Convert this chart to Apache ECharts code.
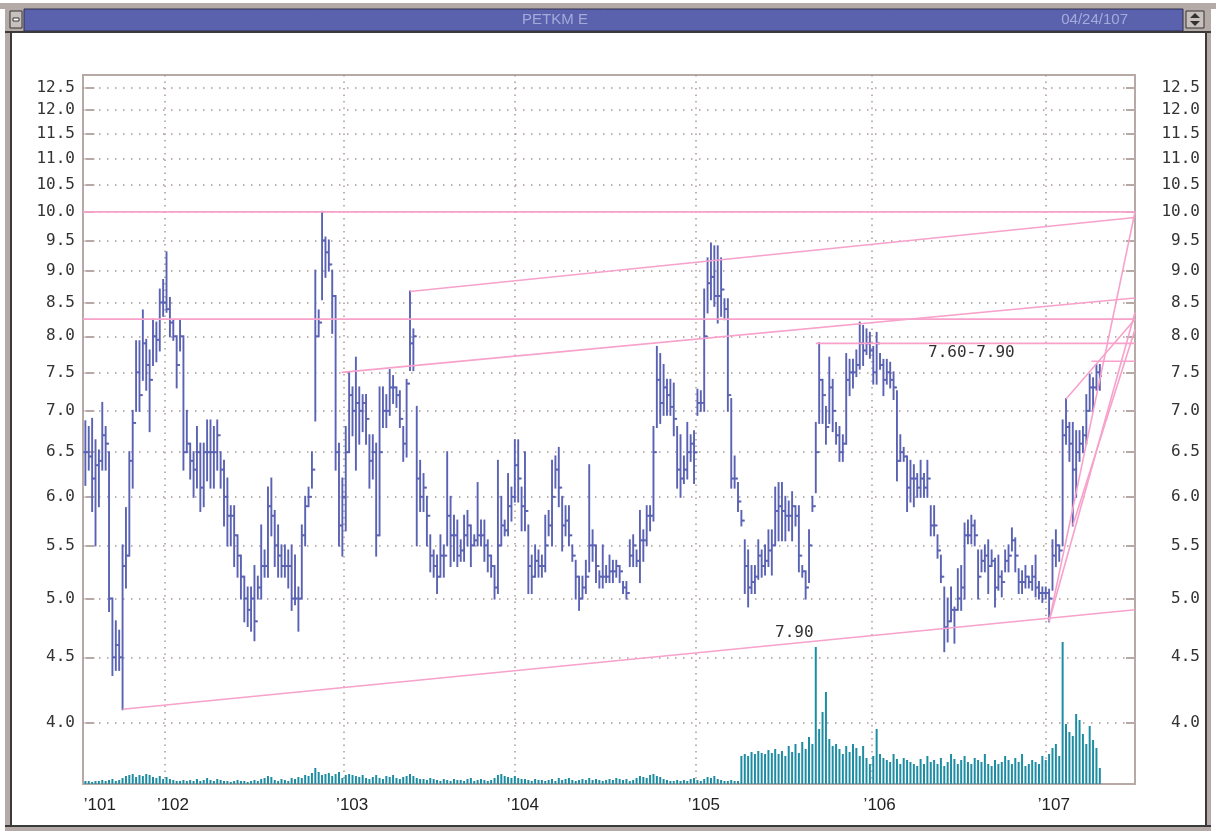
<!DOCTYPE html>
<html>
<head>
<meta charset="utf-8">
<script src="https://cdn.jsdelivr.net/npm/echarts@6/dist/echarts.min.js"></script>
<style>
html,body{margin:0;padding:0;background:#fff;}
#main{width:1216px;height:831px;}
</style>
</head>
<body>
<div id="main"></div>
<script>
// weekly bars, index 0 = first week shown (mid 101)
var highs = [6.87,6.8,6.9,6.64,6.52,7.1,6.8,6.5,5.0,4.8,4.72,5.5,5.88,6.5,7.0,7.93,7.93,8.38,7.95,7.8,
 8.24,8.2,8.7,8.85,9.3,8.57,8.24,8.0,8.24,8.0,7.0,6.6,6.5,6.8,6.6,6.6,6.88,6.88,6.8,6.88,
 6.5,6.4,6.2,5.9,5.9,5.6,5.4,5.2,5.1,5.1,5.3,5.2,5.7,5.45,6.1,6.2,5.85,5.7,5.5,5.5,
 5.45,5.5,5.4,5.1,5.7,6.0,6.1,6.5,9.0,8.38,10.0,9.55,9.5,9.0,8.6,6.6,6.2,6.8,7.5,7.3,
 7.7,7.3,7.2,7.2,6.7,6.7,6.6,7.3,7.3,7.2,7.53,7.45,7.3,7.25,6.8,7.4,8.67,8.1,7.05,6.4,
 6.25,6.0,5.6,5.45,5.4,5.6,5.5,6.5,6.0,5.8,5.75,5.55,5.8,5.85,5.7,5.6,6.15,5.75,5.75,5.55,
 5.4,5.3,6.4,6.0,5.75,6.25,6.1,6.64,6.64,6.1,6.5,5.7,5.4,5.5,5.45,5.4,5.8,5.85,6.4,6.45,
 6.55,6.0,5.9,5.9,5.5,5.35,5.2,5.2,5.35,6.35,5.65,5.5,5.25,5.5,5.3,5.4,5.35,5.35,5.3,5.15,
 5.15,5.55,5.6,5.45,5.85,5.65,5.9,5.9,6.8,7.85,7.75,7.6,7.4,7.4,7.35,6.8,6.7,6.45,6.85,6.7,
 6.75,7.27,7.25,8.7,9.2,9.45,9.4,9.4,9.2,8.55,8.55,7.15,6.45,6.15,5.85,5.55,5.45,5.3,5.3,5.55,
 5.45,5.5,5.65,5.65,6.1,6.15,6.15,6.0,5.95,6.05,5.9,5.9,5.3,5.25,5.65,6.0,6.85,7.9,7.4,7.05,
 7.7,7.4,6.85,6.8,6.7,7.75,7.67,7.67,7.8,8.2,8.15,8.1,8.05,7.85,8.05,7.75,7.67,7.67,7.63,7.5,
 7.25,6.7,6.55,6.45,6.4,6.35,6.25,6.4,6.25,6.4,5.9,5.9,5.6,5.4,5.1,5.0,5.1,4.92,5.27,5.3,
 5.72,5.75,5.8,5.75,5.45,5.45,5.5,5.55,5.45,5.37,5.4,5.25,5.45,5.5,5.67,5.57,5.27,5.25,5.3,5.2,
 5.3,5.4,5.15,5.1,5.1,5.08,5.55,5.65,5.5,6.88,7.15,6.85,6.85,6.75,6.75,6.8,7.2,7.47,7.42,7.6,
 7.6];
var lows = [6.13,6.3,5.85,5.5,5.9,6.3,6.3,4.89,4.36,4.4,4.4,4.1,5.1,5.4,6.1,7.0,7.0,7.4,7.27,6.75,
 7.6,7.65,7.8,8.3,8.36,8.0,7.95,7.3,7.8,6.3,6.5,6.2,6.0,6.1,5.85,5.9,6.18,6.1,6.1,6.3,
 6.1,5.7,5.5,5.5,5.3,5.2,5.0,4.8,4.76,4.72,4.64,5.0,5.0,5.2,5.2,5.6,5.3,5.2,5.2,5.2,
 5.1,4.9,4.95,4.72,5.0,5.5,5.9,6.1,6.88,8.0,8.55,8.9,9.0,8.05,6.3,5.5,5.4,5.65,6.5,6.7,
 6.3,6.6,6.75,6.6,6.1,6.2,5.4,5.6,6.8,6.8,6.95,7.1,7.05,6.8,6.4,6.45,7.53,7.53,5.5,5.85,
 5.85,5.5,5.25,5.2,5.05,5.2,5.2,5.5,5.3,5.35,5.3,5.35,5.35,5.5,5.3,5.5,5.5,5.5,5.35,5.25,
 5.2,5.0,5.05,5.5,5.6,5.6,5.75,5.95,5.95,5.65,5.65,5.05,5.05,5.2,5.2,5.2,5.25,5.6,5.5,6.1,
 5.9,5.45,5.6,5.5,5.35,5.0,4.9,5.0,5.05,5.25,5.35,5.15,5.1,5.1,5.15,5.15,5.15,5.2,5.15,5.05,
 5.0,5.3,5.3,5.3,5.15,5.35,5.5,5.65,5.75,6.8,6.85,6.95,6.95,6.95,6.7,6.1,6.0,6.15,6.2,6.4,
 6.15,6.95,7.0,7.0,8.35,8.55,8.45,8.2,8.3,8.25,7.0,6.1,6.1,5.85,5.7,5.05,4.93,5.05,5.05,5.18,
 5.2,5.22,5.3,5.22,5.5,5.55,5.55,5.55,5.65,5.55,5.7,5.25,5.2,5.0,5.15,5.85,6.05,6.85,6.85,6.6,
 6.85,6.75,6.6,6.4,6.4,6.6,7.2,7.3,7.45,7.55,7.6,7.75,7.7,7.35,7.35,7.55,7.2,7.35,7.3,7.15,
 6.18,6.4,6.4,5.85,5.95,5.9,6.0,6.0,6.0,6.0,5.6,5.6,5.38,5.15,4.55,4.63,4.8,4.62,4.9,4.9,
 5.0,5.52,5.52,5.5,5.0,5.25,5.25,5.05,5.3,4.93,5.08,5.02,5.25,5.25,5.45,5.25,5.05,5.05,5.1,5.1,
 5.08,5.02,5.0,4.97,5.0,4.8,5.08,5.3,5.35,5.5,6.6,6.4,5.7,6.0,6.4,6.5,6.6,7.0,7.0,7.27,
 7.27];
var closes = [6.5,6.45,6.2,6.35,6.4,6.7,6.6,5.0,4.5,4.6,4.5,5.3,5.4,6.4,6.85,7.5,7.2,7.9,7.6,7.4,
 8.0,7.95,8.5,8.5,8.4,8.2,8.0,7.6,8.0,6.5,6.6,6.4,6.3,6.5,6.1,6.5,6.5,6.5,6.5,6.7,
 6.3,6.0,5.8,5.8,5.6,5.4,5.2,5.0,4.9,5.0,4.8,5.1,5.3,5.3,5.9,5.8,5.5,5.4,5.3,5.3,
 5.3,5.0,5.0,5.0,5.6,5.9,6.0,6.3,8.0,8.2,9.5,9.3,9.1,8.6,6.5,5.7,6.0,6.5,7.2,7.0,
 7.1,7.0,7.1,6.9,6.4,6.5,5.6,6.5,7.0,7.0,7.3,7.3,7.2,6.9,6.6,7.35,7.9,8.0,6.2,6.0,
 6.1,5.8,5.4,5.3,5.2,5.4,5.4,5.8,5.6,5.6,5.4,5.45,5.6,5.7,5.5,5.55,5.6,5.6,5.5,5.4,
 5.3,5.1,5.5,5.7,5.65,5.9,6.0,6.35,6.2,5.9,5.85,5.3,5.2,5.35,5.3,5.3,5.5,5.7,6.0,6.3,
 6.1,5.7,5.75,5.6,5.4,5.2,5.0,5.1,5.2,5.5,5.5,5.3,5.2,5.2,5.2,5.25,5.25,5.3,5.25,5.1,
 5.05,5.4,5.5,5.35,5.55,5.55,5.8,5.8,6.5,7.4,7.1,7.3,7.2,7.05,6.9,6.3,6.2,6.3,6.5,6.6,
 6.5,7.1,7.1,8.0,8.8,8.9,8.6,8.6,8.7,8.4,7.2,6.2,6.2,5.95,5.75,5.3,5.1,5.15,5.2,5.4,
 5.3,5.35,5.45,5.5,5.85,5.9,5.85,5.8,5.8,5.9,5.8,5.4,5.25,5.1,5.5,5.9,6.5,7.4,7.2,6.8,
 7.3,7.0,6.7,6.5,6.6,7.4,7.5,7.5,7.6,7.9,7.8,7.9,7.8,7.5,7.9,7.6,7.4,7.5,7.4,7.3,
 6.4,6.5,6.45,6.1,6.2,6.2,6.1,6.2,6.1,6.2,5.7,5.7,5.45,5.2,4.75,4.8,4.9,4.9,5.0,5.1,
 5.6,5.6,5.7,5.6,5.2,5.35,5.4,5.3,5.35,5.1,5.2,5.15,5.35,5.4,5.55,5.4,5.15,5.15,5.2,5.15,
 5.2,5.1,5.05,5.05,5.05,5.0,5.4,5.5,5.45,6.7,6.8,6.6,6.3,6.5,6.6,6.7,7.0,7.3,7.3,7.5,
 7.45];
// weekly volume (lots)
var volumes = [300,300,200,300,300,400,300,400,500,300,400,600,
 800,900,1000,700,900,800,1000,900,700,600,800,500,
 700,500,400,300,300,400,300,400,300,500,300,400,600,400,300,500,400,
 300,300,200,300,400,300,300,200,300,400,300,500,600,800,700,
 400,300,500,400,300,600,500,700,600,900,800,
 1100,1600,1200,900,1000,1100,800,1000,1200,600,900,
 1000,900,800,700,900,600,500,700,900,600,500,800,700,900,600,500,700,800,
 1000,800,600,500,500,400,600,500,400,300,500,400,300,500,400,
 400,300,500,600,300,400,500,400,300,400,600,900,1000,800,700,600,800,
 600,500,500,400,300,500,400,400,300,400,500,300,600,400,500,600,400,300,400,500,400,600,400,
 500,400,300,400,500,400,600,500,400,500,300,400,600,800,700,600,900,1000,800,700,
 500,400,300,300,400,300,400,300,500,600,400,300,500,700,600,800,500,400,300,300,400,300,300,
 2800,3000,2800,3200,3000,3300,3100,3000,3400,3100,3500,3000,3300,2800,3800,3200,4000,3100,4200,3500,4700,4000,
 13700,5500,7200,9200,4500,3800,4000,3500,3000,3800,3200,4000,3600,2800,3800,2600,2000,
 2800,5500,3000,2600,2400,2200,3000,2500,2000,2600,2400,2200,2000,1800,2500,2000,2800,2200,2400,2000,
 2600,1800,2200,3000,2500,2000,2400,2800,2200,2000,2600,2400,2200,3000,2000,1800,2400,2000,2200,2800,
 2400,2000,2600,2200,3000,1800,2000,2400,2200,2000,2800,
 2400,3000,3600,4000,2800,14200,6000,5200,4800,7000,6400,5000,4000,5800,4400,3600,1600];

var priceTicks = [4.0,4.5,5.0,5.5,6.0,6.5,7.0,7.5,8.0,8.5,9.0,9.5,10.0,10.5,11.0,11.5,12.0,12.5];
var yearNames = ['101','102','103','104','105','106','107'];
var yearTicks = [0, 23.5, 76.5, 127, 180.5, 232.5, 284];
// trend lines: [week from, price from, week to, price to]
var trendLines = [
  [-0.7, 10.0, 310.4, 10.0],
  [-0.7, 8.25, 310.4, 8.25],
  [96, 8.67, 310.4, 9.9],
  [75.8, 7.5, 310.4, 8.57],
  [216, 7.9, 310.4, 7.9],
  [297.5, 7.65, 310.4, 7.65],
  [11, 4.1, 310.4, 4.9],
  [285, 4.8, 310.4, 10.0],
  [285, 4.8, 310.4, 8.35],
  [292, 5.7, 310.4, 8.1],
  [290, 7.15, 310.4, 8.25]
];

var ln = Math.log;
var priceMin = 3.586, priceMax = 12.78;
var gridLeft = 83, gridTop = 75, gridW = 1052, gridH = 709;

var myChart = echarts.init(document.getElementById('main'), null, {renderer: 'canvas'});

// open tick drawn at the previous close
var hlcData = highs.map(function (h, i) {
  var prev = i > 0 ? closes[i - 1] : closes[i];
  return [i, ln(h), ln(lows[i]), ln(closes[i]), ln(prev)];
});

var barColor = '#5a62b4';
var pink = '#f7a1cb';
var frameColor = '#b7aaa6';
var dotColor = '#a9999a';
var monoFont = '"DejaVu Sans Mono", monospace';

var series = [];
series.push({
  type: 'custom',
  name: 'price',
  xAxisIndex: 0,
  yAxisIndex: 0,
  z: 3,
  data: hlcData,
  encode: {x: 0, y: [1, 2, 3, 4]},
  renderItem: function (params, api) {
    var x = api.value(0);
    var hi = api.coord([x, api.value(1)]);
    var lo = api.coord([x, api.value(2)]);
    var cl = api.coord([x, api.value(3)]);
    var op = api.coord([x, api.value(4)]);
    var st = {stroke: barColor, lineWidth: 1.9};
    return {
      type: 'group',
      children: [
        {type: 'line', shape: {x1: hi[0], y1: hi[1] - 1, x2: lo[0], y2: lo[1] + 1}, style: st},
        {type: 'line', shape: {x1: op[0] - 2, y1: op[1], x2: op[0], y2: op[1]}, style: st},
        {type: 'line', shape: {x1: cl[0], y1: cl[1], x2: cl[0] + 2, y2: cl[1]}, style: st}
      ]
    };
  }
});

series.push({
  type: 'bar',
  name: 'volume',
  xAxisIndex: 0,
  yAxisIndex: 2,
  z: 2,
  barWidth: 2,
  itemStyle: {color: '#1d8da3'},
  data: volumes.map(function (v, i) { return [i, v]; })
});

trendLines.forEach(function (t) {
  series.push({
    type: 'line',
    xAxisIndex: 0,
    yAxisIndex: 0,
    z: 4,
    symbol: 'none',
    silent: true,
    lineStyle: {color: pink, width: 1.6},
    data: [[t[0], ln(t[1])], [t[2], ln(t[3])]]
  });
});

var lnTicks = priceTicks.map(function (p) { return ln(p); });
var labelFmt = function (v) { return Math.exp(v).toFixed(1); };
var yearLabelPos = [4.3].concat(yearTicks.slice(1).map(function (t) { return t + 2.4; }));

var option = {
  animation: false,
  backgroundColor: '#fff',
  grid: {
    left: gridLeft, top: gridTop, width: gridW, height: gridH,
    show: true, borderColor: frameColor, borderWidth: 2
  },
  xAxis: [{
    type: 'value',
    min: -0.7,
    max: 310.4,
    axisLine: {show: false},
    axisTick: {show: false, customValues: yearTicks.slice(1)},
    splitLine: {show: true, lineStyle: {color: dotColor, type: [1.5, 5], width: 1.5}},
    axisLabel: {
      customValues: yearLabelPos,
      formatter: function (v) {
        var best = 0, d = 1e9;
        yearLabelPos.forEach(function (p, k) { if (Math.abs(p - v) < d) { d = Math.abs(p - v); best = k; } });
        return '\u2019' + yearNames[best];
      },
      margin: 13,
      color: '#222',
      fontFamily: '"Liberation Sans", Arial, sans-serif',
      fontSize: 17
    }
  }],
  yAxis: [{
    type: 'value',
    position: 'left',
    min: ln(priceMin),
    max: ln(priceMax),
    axisLine: {show: false},
    axisTick: {show: true, inside: true, length: 9, customValues: lnTicks, lineStyle: {color: frameColor, width: 2}},
    axisLabel: {customValues: lnTicks, formatter: labelFmt, margin: 8, color: '#333', fontFamily: monoFont, fontSize: 16},
    splitLine: {show: true, lineStyle: {color: dotColor, type: [1.5, 6.5], width: 1.5}}
  }, {
    type: 'value',
    position: 'right',
    min: ln(priceMin),
    max: ln(priceMax),
    axisLine: {show: false},
    axisTick: {show: true, inside: true, length: 9, customValues: lnTicks, lineStyle: {color: frameColor, width: 2}},
    axisLabel: {customValues: lnTicks, formatter: labelFmt, margin: 65, align: 'right', color: '#333', fontFamily: monoFont, fontSize: 16},
    splitLine: {show: false}
  }, {
    type: 'value',
    show: false,
    min: 0,
    max: 70900,
    splitLine: {show: false}
  }],
  series: series,
  graphic: [
    {type: 'rect', silent: true, shape: {x: 0, y: 3, width: 1216, height: 6}, style: {fill: '#b4aaa7'}},
    {type: 'rect', silent: true, shape: {x: 5, y: 9, width: 1206, height: 23}, style: {fill: '#b4aaa7'}},
    {type: 'rect', silent: true, shape: {x: 24, y: 9, width: 1159, height: 22}, style: {fill: '#5a62ad', stroke: '#2e2e4e', lineWidth: 1}},
    {type: 'rect', silent: true, shape: {x: 10, y: 11, width: 12, height: 17}, style: {fill: '#c8c0bd', stroke: '#333', lineWidth: 1}},
    {type: 'rect', silent: true, shape: {x: 13, y: 18, width: 6, height: 3}, style: {fill: '#fff', stroke: '#333', lineWidth: 1}},
    {type: 'rect', silent: true, shape: {x: 1186, y: 11, width: 18, height: 17}, style: {fill: '#c8c0bd', stroke: '#333', lineWidth: 1}},
    {type: 'polygon', silent: true, shape: {points: [[1190, 18], [1200, 18], [1195, 13]]}, style: {fill: '#333'}},
    {type: 'polygon', silent: true, shape: {points: [[1190, 21], [1200, 21], [1195, 26]]}, style: {fill: '#333'}},
    {type: 'rect', silent: true, shape: {x: 5, y: 31, width: 1206, height: 2}, style: {fill: '#3a3a3a'}},
    {type: 'rect', silent: true, shape: {x: 5, y: 33, width: 5, height: 794}, style: {fill: '#b4aaa7'}},
    {type: 'rect', silent: true, shape: {x: 10, y: 33, width: 2, height: 794}, style: {fill: '#3a3a3a'}},
    {type: 'rect', silent: true, shape: {x: 1205, y: 33, width: 2, height: 794}, style: {fill: '#3a3a3a'}},
    {type: 'rect', silent: true, shape: {x: 1207, y: 33, width: 4, height: 794}, style: {fill: '#b4aaa7'}},
    {type: 'rect', silent: true, shape: {x: 5, y: 825, width: 1206, height: 2}, style: {fill: '#3a3a3a'}},
    {type: 'rect', silent: true, shape: {x: 5, y: 827, width: 1206, height: 4}, style: {fill: '#b4aaa7'}},
    {type: 'text', silent: true, x: 555, y: 20, style: {text: 'PETKM E', fill: '#a6aadb', font: '15px "Liberation Sans", sans-serif', align: 'center', verticalAlign: 'middle'}},
    {type: 'text', silent: true, x: 1128, y: 20, style: {text: '04/24/107', fill: '#a6aadb', font: '15px "Liberation Sans", sans-serif', align: 'right', verticalAlign: 'middle'}},
    {type: 'text', silent: true, z: 10, x: 928, y: 345, style: {text: '7.60-7.90', fill: '#333', font: '16px "DejaVu Sans Mono", monospace'}},
    {type: 'text', silent: true, z: 10, x: 775, y: 625, style: {text: '7.90', fill: '#333', font: '16px "DejaVu Sans Mono", monospace'}}
  ]
};
myChart.setOption(option);
</script>
</body>
</html>
